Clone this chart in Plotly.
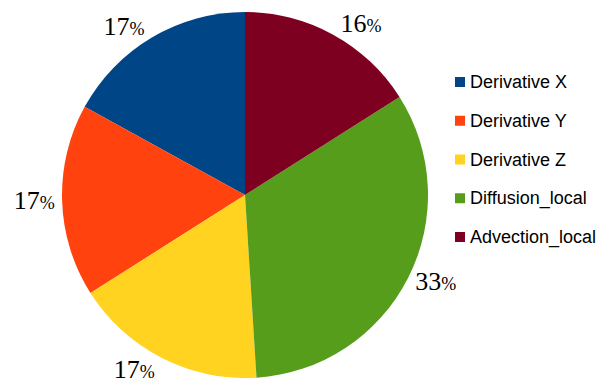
import plotly.graph_objects as go

# Share of run time per kernel (percent)
labels = ["Derivative X", "Derivative Y", "Derivative Z", "Diffusion_local", "Advection_local"]
values = [17, 17, 17, 33, 16]
colors = ["#004586", "#ff420e", "#ffd320", "#579d1c", "#7e0021"]

W, H = 611, 392

# first slice begins at 12 o'clock and the slices run counterclockwise
start_rot = -360.0 * values[0] / sum(values)

fig = go.Figure()
fig.add_trace(go.Pie(
    labels=labels,
    values=values,
    sort=False,
    direction="counterclockwise",
    rotation=start_rot,
    marker=dict(colors=colors, line=dict(width=0)),
    textposition="outside",
    texttemplate="%{value}<span style='font-size:18px'>%</span>",
    textfont=dict(family="Liberation Serif", size=26, color="#000000"),
    domain=dict(x=[62 / W, 428 / W], y=[14 / H, 380 / H]),
    showlegend=False,
    hoverinfo="label+percent",
))

# Legend drawn as colour squares and text entries
leg_x0, leg_y0, leg_step, sq = 455, 82, 38.75, 10
for i, (lab, col) in enumerate(zip(labels, colors)):
    yc = leg_y0 + i * leg_step
    fig.add_shape(
        type="rect", xref="paper", yref="paper",
        x0=leg_x0 / W, x1=(leg_x0 + sq) / W,
        y0=1 - (yc + sq / 2) / H, y1=1 - (yc - sq / 2) / H,
        fillcolor=col, line=dict(width=0),
    )
    fig.add_annotation(
        text=lab, xref="paper", yref="paper",
        x=(leg_x0 + sq + 3) / W, y=1 - yc / H,
        xanchor="left", yanchor="middle", showarrow=False,
        font=dict(family="Liberation Sans", size=18, color="#000000"),
    )

fig.update_layout(
    width=W, height=H,
    margin=dict(l=0, r=0, t=0, b=0),
    paper_bgcolor="#ffffff",
    plot_bgcolor="#ffffff",
)

fig.write_html("out.html")
